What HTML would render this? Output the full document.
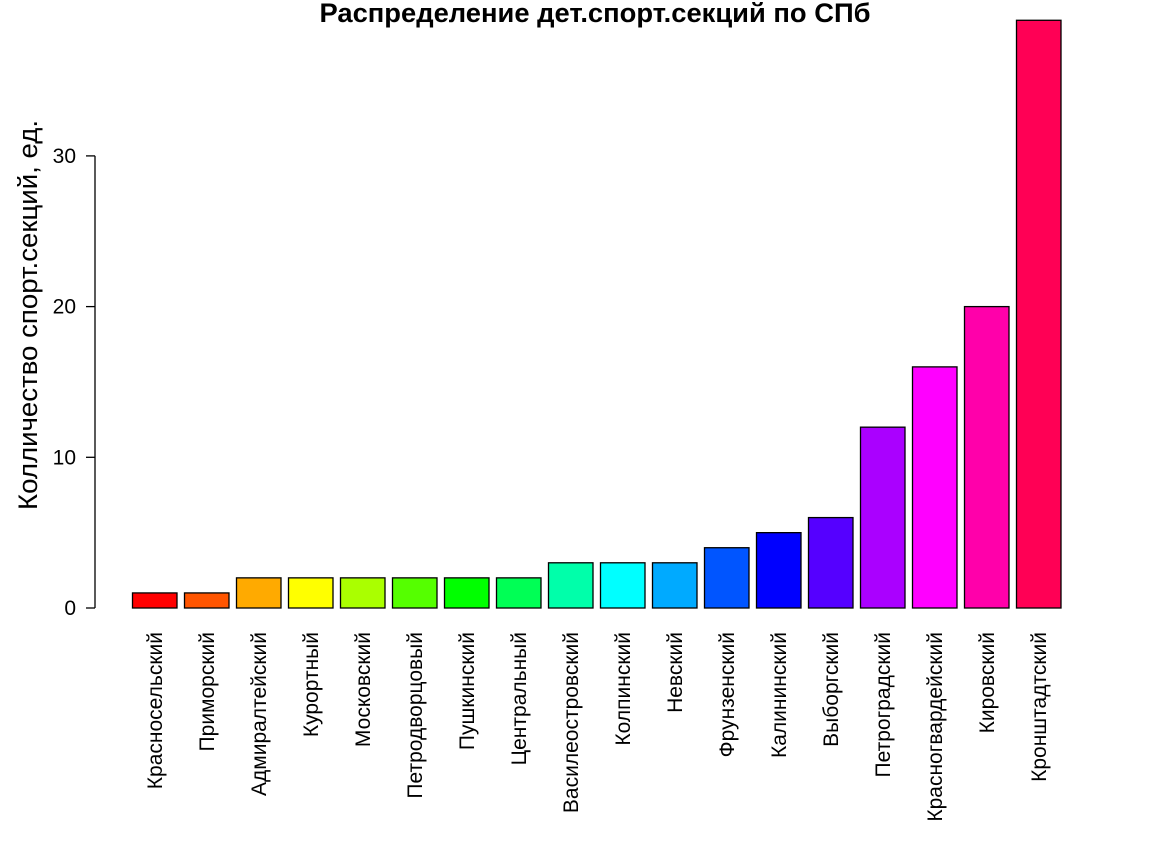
<!DOCTYPE html>
<html><head><meta charset="utf-8"><style>body{margin:0;background:#fff}svg{display:block}</style></head>
<body>
<svg id="chart" width="1152" height="864" xmlns="http://www.w3.org/2000/svg" font-family="Liberation Sans, DejaVu Sans, sans-serif">
<text x="595" y="22" font-size="27" font-weight="bold" text-anchor="middle" textLength="551" lengthAdjust="spacingAndGlyphs">Распределение дет.спорт.секций по СПб</text>
<text transform="translate(37,315) rotate(-90)" font-size="27" text-anchor="middle" textLength="390" lengthAdjust="spacingAndGlyphs">Колличество спорт.секций, ед.</text>
<g id="bars"></g><g id="yaxis"></g><g id="xlabels"></g>
</svg>
<script>
const categories = ["Красносельский","Приморский","Адмиралтейский","Курортный","Московский","Петродворцовый","Пушкинский","Центральный","Василеостровский","Колпинский","Невский","Фрунзенский","Калининский","Выборгский","Петроградский","Красногвардейский","Кировский","Кронштадтский"];
const values = [1,1,2,2,2,2,2,2,3,3,3,4,5,6,12,16,20,39];
const colors = ["#FF0000","#FF5500","#FFAA00","#FFFF00","#AAFF00","#55FF00","#00FF00","#00FF55","#00FFAA","#00FFFF","#00AAFF","#0055FF","#0000FF","#5500FF","#AA00FF","#FF00FF","#FF00AA","#FF0055"];
const yTicks = [0,10,20,30];
const NS="http://www.w3.org/2000/svg";
const y0=608, pxPerUnit=15.07;
const yScale=v=>y0-v*pxPerUnit;
const xLeft=i=>132.5+52*i;
const bw=44.5;
function mk(tag,attrs,parent){const e=document.createElementNS(NS,tag);for(const k in attrs)e.setAttribute(k,attrs[k]);parent.appendChild(e);return e;}
const bars=document.getElementById('bars'),ya=document.getElementById('yaxis'),xl=document.getElementById('xlabels');
values.forEach((v,i)=>{
  const r=mk('rect',{x:xLeft(i),y:yScale(v),width:bw,height:v*pxPerUnit,fill:colors[i],stroke:'#000','stroke-width':1.3},bars);
  
  
  const cx=xLeft(i)+bw/2;
  const t=mk('text',{transform:`translate(${cx+7},632) rotate(-90)`,'font-size':21,'text-anchor':'end'},xl);
  t.textContent=categories[i];
  
  
});
const axl=mk('line',{x1:95,x2:95,y1:yScale(yTicks[0]),y2:yScale(yTicks[yTicks.length-1]),stroke:'#000','stroke-width':1.3},ya);


yTicks.forEach(v=>{
  const l=mk('line',{x1:86,x2:95,y1:yScale(v),y2:yScale(v),stroke:'#000','stroke-width':1.3},ya);
  
  
  const t=mk('text',{x:76,y:yScale(v)+7,'font-size':21,'text-anchor':'end'},ya);
  t.textContent=v;
  
  
});
</script>
</body></html>
